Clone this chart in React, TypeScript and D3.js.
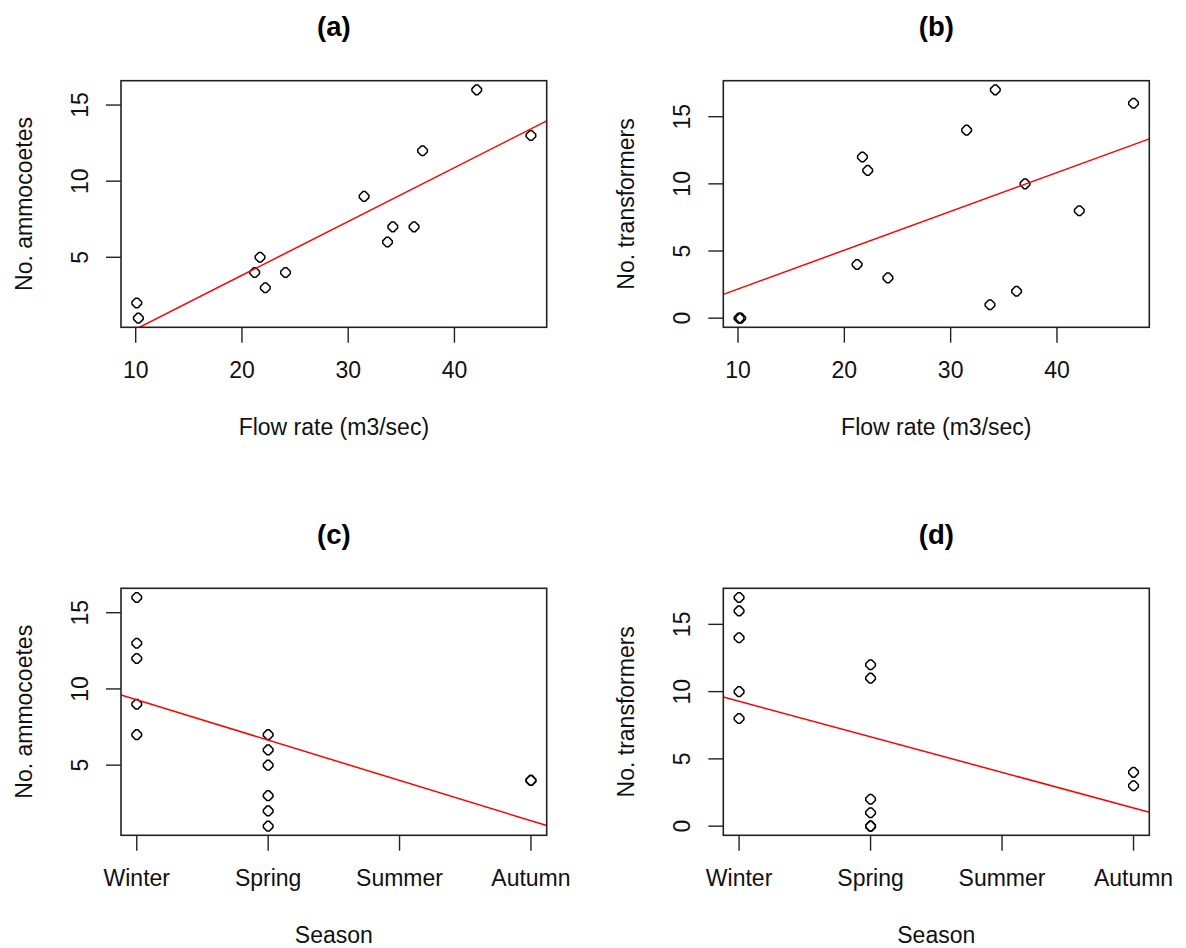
import React from "react";
import * as d3 from "d3";

// ---- data ----
const flow = [10.1, 10.25, 21.2, 21.7, 22.2, 24.1, 31.5, 33.7, 34.2, 36.2, 37.0, 42.1, 47.2];
const ammocoetes = [2, 1, 4, 5, 3, 4, 9, 6, 7, 7, 12, 16, 13];
const transformers = [0, 0, 4, 12, 11, 3, 14, 1, 17, 2, 10, 8, 16];
const season = [
  "Spring", "Spring", "Autumn", "Spring", "Spring", "Autumn",
  "Winter", "Spring", "Winter", "Spring", "Winter", "Winter", "Winter",
];
const seasonLabels = ["Winter", "Spring", "Summer", "Autumn"];
const flowTicks = [10, 20, 30, 40];
const ammoTicks = [5, 10, 15];
const transTicks = [0, 5, 10, 15];
const titles = ["(a)", "(b)", "(c)", "(d)"];

const seasonCode = season.map((s) => seasonLabels.indexOf(s) + 1);

function lm(x: number[], y: number[]) {
  const mx = d3.mean(x) as number;
  const my = d3.mean(y) as number;
  let sxy = 0, sxx = 0;
  x.forEach((xi, i) => {
    sxy += (xi - mx) * (y[i] - my);
    sxx += (xi - mx) * (xi - mx);
  });
  const b = sxy / sxx;
  return { a: my - b * mx, b };
}

function rDomain(v: number[]): [number, number] {
  const [lo, hi] = d3.extent(v) as [number, number];
  const p = (hi - lo) * 0.04;
  return [lo - p, hi + p];
}

const FONT = "'Liberation Sans', Arial, Helvetica, sans-serif";
const FS = 23;

// low-resolution "open circle" marker, as rasterised in the reference
function marker(r: number) {
  const c = r * 0.25;
  const pts: [number, number][] = [
    [-r, -c], [-c, -r], [c, -r], [r, -c], [r, c], [c, r], [-c, r], [-r, c],
  ];
  return (d3.line().curve(d3.curveLinearClosed)(pts)) as string;
}
const MARK = marker(4.8);

type PanelProps = {
  id: string;
  title: string;
  left: number;
  right: number;
  top: number;
  bottom: number;
  xs: number[];
  ys: number[];
  fit: { a: number; b: number };
  xDomain: [number, number];
  yDomain: [number, number];
  xTicks: number[];
  xTickLabels: string[];
  yTicks: number[];
  xTitle: string;
  yTitle: string;
};

function Panel(p: PanelProps) {
  const x = d3.scaleLinear().domain(p.xDomain).range([p.left, p.right]);
  const y = d3.scaleLinear().domain(p.yDomain).range([p.bottom, p.top]);
  const x0 = p.xDomain[0], x1 = p.xDomain[1];
  const cx = (p.left + p.right) / 2;
  const cy = (p.top + p.bottom) / 2;
  return (
    <g>
      <defs>
        <clipPath id={`clip-${p.id}`}>
          <rect x={p.left} y={p.top} width={p.right - p.left} height={p.bottom - p.top} />
        </clipPath>
      </defs>
      <text x={cx} y={p.top - 44.5} textAnchor="middle" fontFamily={FONT} fontWeight="bold" fontSize={27.5} fill="#000">
        {p.title}
      </text>
      {p.xs.map((xv, i) => (
        <path key={i} d={MARK} transform={`translate(${x(xv)},${y(p.ys[i])})`} fill="none" stroke="#000" strokeWidth={1.5} />
      ))}
      <line
        clipPath={`url(#clip-${p.id})`}
        x1={x(x0)} y1={y(p.fit.a + p.fit.b * x0)}
        x2={x(x1)} y2={y(p.fit.a + p.fit.b * x1)}
        stroke="#ff0000" strokeWidth={1.5}
      />
      <rect x={p.left} y={p.top} width={p.right - p.left} height={p.bottom - p.top} fill="none" stroke="#222" strokeWidth={1.6} />
      {p.xTicks.map((t, i) => (
        <g key={`xt${i}`}>
          <line x1={x(t)} x2={x(t)} y1={p.bottom} y2={p.bottom + 15.4} stroke="#222" strokeWidth={1.4} />
          <text x={x(t)} y={p.bottom + 51} textAnchor="middle" fontFamily={FONT} fontSize={FS} fill="#111">
            {p.xTickLabels[i]}
          </text>
        </g>
      ))}
      {p.yTicks.map((t, i) => (
        <g key={`yt${i}`}>
          <line x1={p.left - 15} x2={p.left} y1={y(t)} y2={y(t)} stroke="#222" strokeWidth={1.4} />
          <text transform={`translate(${p.left - 33.3},${y(t)}) rotate(-90)`} textAnchor="middle" fontFamily={FONT} fontSize={FS} fill="#111">
            {t}
          </text>
        </g>
      ))}
      <text x={cx} y={p.bottom + 108} textAnchor="middle" fontFamily={FONT} fontSize={FS} fill="#111">
        {p.xTitle}
      </text>
      <text transform={`translate(${p.left - 89},${cy}) rotate(-90)`} textAnchor="middle" fontFamily={FONT} fontSize={FS} fill="#111">
        {p.yTitle}
      </text>
    </g>
  );
}

export default function App() {
  const L = [121, 546.7];
  const R = [723.3, 1149.3];
  const T = [80.7, 327.3];
  const B = [588.3, 835.3];
  const flowDom = rDomain(flow);
  const seasonDom = rDomain([1, 4]);
  const ammoDom = rDomain(ammocoetes);
  const transDom = rDomain(transformers);
  const fitA = lm(flow, ammocoetes);
  const fitB = lm(flow, transformers);
  const fitC = lm(seasonCode, ammocoetes);
  // the reference's panel (d) shows the same season fit as panel (c)
  const fitD = lm(seasonCode, ammocoetes);
  const flowLabels = flowTicks.map(String);
  return (
    <svg width={1186} height={948} style={{ position: "absolute", left: 0, top: 0, background: "#fff" }}>
      <rect width={1186} height={948} fill="#fff" />
      <Panel id="a" title={titles[0]} left={L[0]} right={L[1]} top={T[0]} bottom={T[1]}
        xs={flow} ys={ammocoetes} fit={fitA} xDomain={flowDom} yDomain={ammoDom}
        xTicks={flowTicks} xTickLabels={flowLabels} yTicks={ammoTicks}
        xTitle="Flow rate (m3/sec)" yTitle="No. ammocoetes" />
      <Panel id="b" title={titles[1]} left={R[0]} right={R[1]} top={T[0]} bottom={T[1]}
        xs={flow} ys={transformers} fit={fitB} xDomain={flowDom} yDomain={transDom}
        xTicks={flowTicks} xTickLabels={flowLabels} yTicks={transTicks}
        xTitle="Flow rate (m3/sec)" yTitle="No. transformers" />
      <Panel id="c" title={titles[2]} left={L[0]} right={L[1]} top={B[0]} bottom={B[1]}
        xs={seasonCode} ys={ammocoetes} fit={fitC} xDomain={seasonDom} yDomain={ammoDom}
        xTicks={[1, 2, 3, 4]} xTickLabels={seasonLabels} yTicks={ammoTicks}
        xTitle="Season" yTitle="No. ammocoetes" />
      <Panel id="d" title={titles[3]} left={R[0]} right={R[1]} top={B[0]} bottom={B[1]}
        xs={seasonCode} ys={transformers} fit={fitD} xDomain={seasonDom} yDomain={transDom}
        xTicks={[1, 2, 3, 4]} xTickLabels={seasonLabels} yTicks={transTicks}
        xTitle="Season" yTitle="No. transformers" />
    </svg>
  );
}
